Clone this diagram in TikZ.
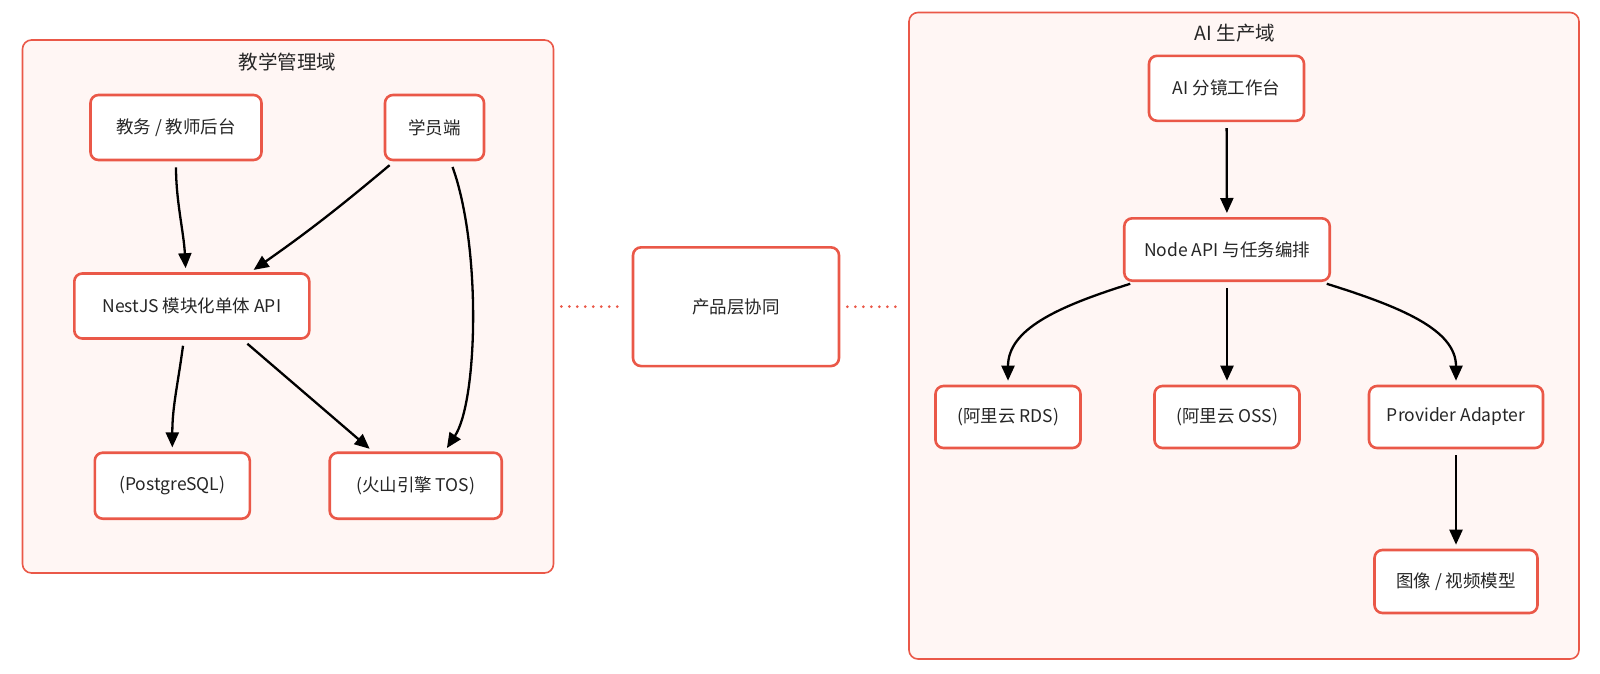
\documentclass[tikz,border=0pt]{standalone}
\usepackage{fontspec}
\setmainfont{Noto Sans CJK SC}
\usetikzlibrary{arrows.meta,positioning,backgrounds}
\definecolor{edgered}{HTML}{EA5848}
\definecolor{zonefill}{HTML}{FFF6F4}
\definecolor{ink}{HTML}{262626}

\begin{document}
\begin{tikzpicture}[x=1pt, y=1pt, >={Triangle[length=15pt,width=13pt]},
  box/.style={draw=edgered, line width=2.6pt, fill=white, rounded corners=8pt,
    text=ink, font=\fontsize{17.5}{20}\selectfont, minimum height=65pt, inner sep=0pt},
  zone/.style={draw=edgered, line width=1.6pt, fill=zonefill, rounded corners=9pt, inner sep=0pt},
  zonetitle/.style={text=ink, font=\fontsize{19.5}{23}\selectfont},
  flow/.style={->, line width=2.3pt, shorten <=6pt, shorten >=4pt},
  link/.style={draw=edgered, line width=3pt, line cap=round,
    dash pattern=on 0pt off 8pt, shorten <=7pt, shorten >=7pt}]
  \useasboundingbox (0,0) rectangle (1600,-673);

  % teaching management domain
  \node[zonetitle] (edutitle) at (287.5,-62.3) {教学管理域};
  \node[box, minimum width=171pt] (admin) at (176,-127.5) {教务 / 教师后台};
  \node[box, minimum width=99pt] (stu) at (434.5,-127.5) {学员端};
  \node[box, minimum width=235pt] (nest) at (191.8,-306) {NestJS 模块化单体 API};
  \node[box, minimum width=155pt, minimum height=66pt] (pg) at (172.3,-485.7) {(PostgreSQL)};
  \node[box, minimum width=172pt, minimum height=66pt] (tos) at (415.7,-485.7) {(火山引擎 TOS)};

  % shared product layer
  \node[box, minimum width=206pt, minimum height=118.7pt] (collab) at (736,-306.7) {产品层协同};

  % ai production domain
  \node[zonetitle] (aititle) at (1235,-33.3) {AI 生产域};
  \node[box, minimum width=155pt] (studio) at (1226.5,-88.3) {AI 分镜工作台};
  \node[box, minimum width=205.5pt, minimum height=62.4pt] (api) at (1227,-249.5) {Node API 与任务编排};
  \node[box, minimum width=145pt, minimum height=62pt] (rds) at (1008,-417) {(阿里云 RDS)};
  \node[box, minimum width=145pt, minimum height=62pt] (oss) at (1227,-417) {(阿里云 OSS)};
  \node[box, minimum width=174pt, minimum height=62pt] (adapt) at (1456,-417) {Provider Adapter};
  \node[box, minimum width=163pt, minimum height=63pt] (model) at (1456,-581.5) {图像 / 视频模型};

  \begin{scope}[on background layer]
    \node[zone, minimum width=531pt, minimum height=533pt] (edu) at (288,-306.5) {};
    \node[zone, minimum width=670pt, minimum height=646.5pt] (ai) at (1244,-335.75) {};
  \end{scope}

  \draw[flow] (admin.south) .. controls +(0,-40) and +(-2,40) .. ([xshift=-6pt]nest.north);
  \draw[flow] (stu.-140) to[out=-140, in=35] (nest.30);
  \draw[flow] ([xshift=16pt]stu.south) .. controls +(31,-86) and +(33,50) .. ([xshift=29pt]tos.north);
  \draw[flow] ([xshift=-8pt]nest.south) .. controls +(-6,-45) and +(0,45) .. (pg.north);
  \draw[flow] ([xshift=51pt]nest.south) -- ([xshift=-43pt]tos.north);

  \draw[flow] (studio) -- (api);
  \draw[flow] ([xshift=13pt]api.south west) .. controls +(-80,-25) and +(0,55) .. (rds.north);
  \draw[flow] (api) -- (oss);
  \draw[flow] ([xshift=-10pt]api.south east) .. controls +(80,-25) and +(0,55) .. (adapt.north);
  \draw[flow] (adapt) -- (model);

  \draw[link] (edu.east) -- (collab.west);
  \draw[link] (collab.east) -- (collab.east -| ai.west);
\end{tikzpicture}
\end{document}
